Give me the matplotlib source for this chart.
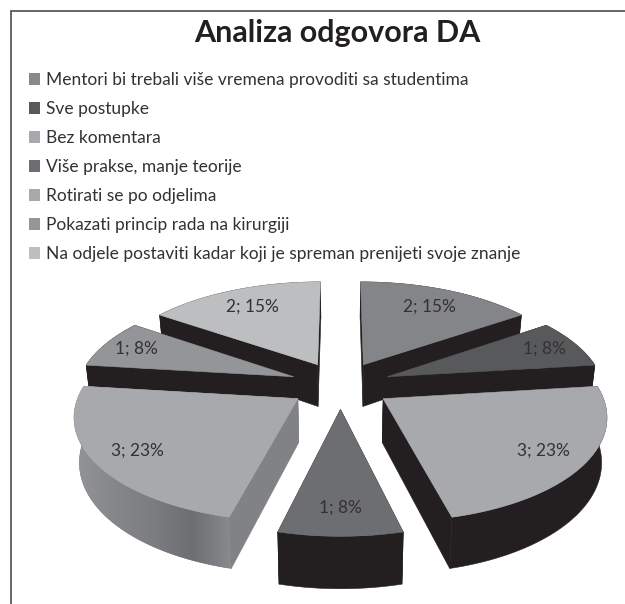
import numpy as np
import matplotlib
matplotlib.use("Agg")
import matplotlib.pyplot as plt
from matplotlib.colors import LinearSegmentedColormap
from matplotlib.patches import Patch, Polygon

title = "Analiza odgovora DA"
categories = [
    "Mentori bi trebali više vremena provoditi sa studentima",
    "Sve postupke",
    "Bez komentara",
    "Više prakse, manje teorije",
    "Rotirati se po odjelima",
    "Pokazati princip rada na kirurgiji",
    "Na odjele postaviti kadar koji je spreman prenijeti svoje znanje",
]
values = [2, 1, 3, 1, 3, 1, 2]
percent_labels = ["15%", "8%", "23%", "8%", "23%", "8%", "15%"]
label_radius = [0.76, 0.83, 0.81, 0.8, 0.81, 0.83, 0.76]
top_colors = ["#848588", "#58595b", "#a7a9ac", "#6d6e71", "#a7a9ac", "#939598", "#bcbec0"]
legend_colors = ["#88898c", "#58595b", "#a7a9ac", "#6d6e71", "#a7a9ac", "#939598", "#bcbec0"]
WALL = "#231f20"
SLICE5_SIDE = "#808285"
SLICE5_ARC_STOPS = ["#939598", "#86878a", "#7c7d80", "#6d6e71", "#8a8b8e"]
TEXT = "#333132"

# projection of the pie plane to the figure's pixel space
X0, Y0, A, B, PERSP = 340.5, 385.0, 216.0, 100.4, 0.146
EXPLODE, HEIGHT, TAPER = 0.235, 43.0, 0.98
PAINT_ORDER = [0, 6, 1, 5, 2, 4, 3]


def project(u, v):
    w = 1 + PERSP * v
    return X0 + A * u / w, Y0 - B * v / w


def drop(x, y, v):
    w = 1 + PERSP * v
    return X0 + (x - X0) * TAPER, y + HEIGHT / w


plt.rcParams["font.family"] = ["Lato", "DejaVu Sans"]

fig = plt.figure(figsize=(6.25, 6.04), dpi=100)
ax = fig.add_axes([0, 0, 1, 1])
ax.axis("off")

ax.plot([625, 11, 11], [11, 11, 604], color="#5a5a5a", lw=1.3, solid_joinstyle="miter", clip_on=False)
ax.text(337, 33, title, ha="center", va="center", fontsize=22, fontweight="bold", color="#231f20")

handles = [Patch(facecolor=c, edgecolor="none") for c in legend_colors]
ax.legend(
    handles, categories, loc="upper left", bbox_to_anchor=(29 / 625, 1 - 72 / 604),
    bbox_transform=fig.transFigure, frameon=False, fontsize=12.5, labelcolor=TEXT,
    handlelength=0.62, handleheight=0.62, handletextpad=0.38, labelspacing=0.75,
    borderaxespad=0, borderpad=0,
)

edges = np.cumsum([0] + values) / sum(values) * 2 * np.pi


def wall(x1, y1, x2, y2, color, z):
    pts = np.column_stack([np.r_[x1, x2[::-1]], np.r_[y1, y2[::-1]]])
    patch = Polygon(pts, closed=True, facecolor=color, edgecolor=color, lw=0.4, zorder=z)
    ax.add_patch(patch)
    return patch


for rank, i in enumerate(PAINT_ORDER):
    t0, t1 = edges[i], edges[i + 1]
    mid = (t0 + t1) / 2
    ou, ov = EXPLODE * np.sin(mid), EXPLODE * np.cos(mid)
    th = np.linspace(t0, t1, 81)
    us, vs = ou + np.sin(th), ov + np.cos(th)
    ax_x, ax_y = project(ou, ov)
    ax_bx, ax_by = drop(ax_x, ax_y, ov)
    x, y = project(us, vs)
    bx, by = drop(x, y, vs)
    z = 10 + rank * 3

    side = SLICE5_SIDE if i == 4 else WALL
    for j in (0, -1):
        wall(np.array([ax_x, x[j]]), np.array([ax_y, y[j]]),
             np.array([ax_bx, bx[j]]), np.array([ax_by, by[j]]), side, z)

    if i == 4:
        # the grey slice's rim is shaded left to right
        rim = wall(x, y, bx, by, SLICE5_ARC_STOPS[2], z + 1)
        ramp = LinearSegmentedColormap.from_list("rim", SLICE5_ARC_STOPS)
        shade = ax.imshow(np.linspace(0, 1, 256)[None, :], cmap=ramp, aspect="auto", zorder=z + 1.5,
                          extent=(min(x.min(), bx.min()), max(x.max(), bx.max()),
                                  max(y.max(), by.max()), min(y.min(), by.min())))
        shade.set_clip_path(rim)
    else:
        wall(x, y, bx, by, WALL, z + 1)

    top = np.column_stack([np.r_[ax_x, x], np.r_[ax_y, y]])
    ax.add_patch(Polygon(top, closed=True, facecolor=top_colors[i], edgecolor=top_colors[i], lw=0.4, zorder=z + 2))

    r = label_radius[i]
    lx, ly = project(ou + r * np.sin(mid), ov + r * np.cos(mid))
    ax.text(lx, ly, f"{values[i]}; {percent_labels[i]}", ha="center", va="center",
            fontsize=12.4, color=TEXT, zorder=40)

ax.set_xlim(0, 625)
ax.set_ylim(604, 0)
fig.savefig("out.png", dpi=100, facecolor="white")
